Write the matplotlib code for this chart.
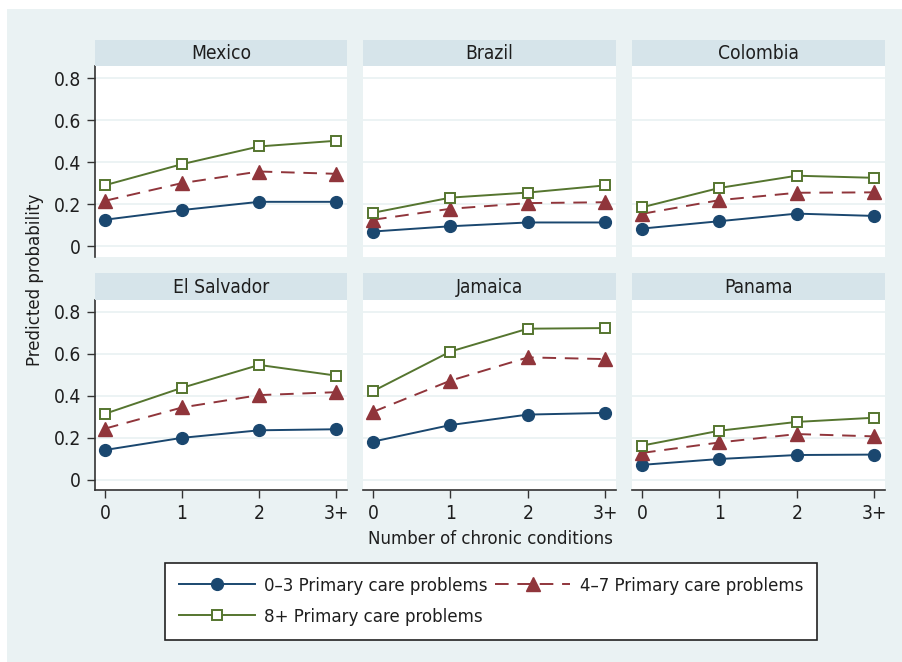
import matplotlib
matplotlib.use("Agg")
import matplotlib.pyplot as plt
from matplotlib import font_manager
from matplotlib.patches import Rectangle
import numpy as np

# pick a narrow face if one is installed, otherwise plain Liberation Sans
narrow = [f for f in font_manager.fontManager.ttflist
          if ("Narrow" in f.name or "Condensed" in f.name
              or f.stretch in ("condensed", "semi-condensed"))]
if narrow:
    fam = narrow[0].name
    plt.rcParams['font.stretch'] = narrow[0].stretch
    fs = 13.3
else:
    fam = "Liberation Sans"
    fs = 13
plt.rcParams['font.family'] = [fam, 'DejaVu Sans']

# data
countries = ["Mexico", "Brazil", "Colombia", "El Salvador", "Jamaica", "Panama"]
x_labels = ["0", "1", "2", "3+"]
series_names = ["0\u20133 Primary care problems", "4\u20137 Primary care problems",
                "8+ Primary care problems"]

low = [[0.127, 0.173, 0.212, 0.212],
       [0.071, 0.096, 0.114, 0.114],
       [0.085, 0.120, 0.156, 0.145],
       [0.141, 0.199, 0.235, 0.240],
       [0.181, 0.260, 0.310, 0.318],
       [0.070, 0.098, 0.117, 0.119]]
mid = [[0.217, 0.301, 0.356, 0.345],
       [0.127, 0.179, 0.206, 0.210],
       [0.155, 0.220, 0.255, 0.257],
       [0.243, 0.344, 0.403, 0.417],
       [0.323, 0.472, 0.583, 0.575],
       [0.127, 0.177, 0.217, 0.206]]
high = [[0.291, 0.391, 0.475, 0.502],
        [0.160, 0.232, 0.256, 0.290],
        [0.186, 0.278, 0.336, 0.326],
        [0.314, 0.438, 0.547, 0.496],
        [0.422, 0.611, 0.720, 0.723],
        [0.162, 0.233, 0.275, 0.295]]

blue = "#1a476f"
red = "#90353b"
green = "#55752f"
bg = "#eaf2f3"
strip = "#d6e4ea"
txt = "#1e1e1e"

W, H = 902, 662
fig = plt.figure(figsize=(W / 100, H / 100), dpi=100)
fig.patch.set_facecolor("white")
fig.patches.append(Rectangle((7 / W, 0), 1, 1 - 9 / H, transform=fig.transFigure,
                             facecolor=bg, edgecolor="none", zorder=-10))

cols = [(95, 347), (363, 616), (632, 885)]
rows = [(40, 66, 257), (273, 300, 490)]  # strip top, plot top, plot bottom

xs = np.arange(4)
handles = None
for i, name in enumerate(countries):
    r, c = divmod(i, 3)
    x0, x1 = cols[c]
    st, pt, pb = rows[r]
    ax = fig.add_axes([x0 / W, 1 - pb / H, (x1 - x0) / W, (pb - pt) / H])
    sax = fig.add_axes([x0 / W, 1 - pt / H, (x1 - x0) / W, (pt - st) / H])
    sax.set_facecolor(strip)
    sax.set_xticks([]); sax.set_yticks([])
    for s in sax.spines.values():
        s.set_visible(False)
    sax.text(0.5, 0.47, name, ha="center", va="center", fontsize=fs + 0.5, color=txt,
             transform=sax.transAxes)

    ax.set_facecolor("white")
    ax.set_xlim(-0.13, 3.14)
    ax.set_ylim(-0.05, 0.857)
    ax.set_yticks([0, 0.2, 0.4, 0.6, 0.8])
    ax.set_xticks(xs)
    ax.grid(axis="y", color=bg, linewidth=1.3)
    ax.set_axisbelow(True)
    for s in ax.spines.values():
        s.set_visible(False)
    ax.tick_params(colors="#333333", labelcolor=txt, labelsize=fs + 0.5, length=6,
                   width=1, pad=4)
    if c == 0:
        ax.spines["left"].set_visible(True)
        ax.spines["left"].set_color("#333333")
        ax.spines["left"].set_linewidth(1.2)
        ax.set_yticklabels(["0", "0.2", "0.4", "0.6", "0.8"])
    else:
        ax.tick_params(axis="y", left=False, labelleft=False)
    if r == 1:
        ax.spines["bottom"].set_visible(True)
        ax.spines["bottom"].set_color("#333333")
        ax.spines["bottom"].set_linewidth(1.2)
        ax.set_xticklabels(x_labels)
    else:
        ax.tick_params(axis="x", bottom=False, labelbottom=False)

    l1, = ax.plot(xs, low[i], color=blue, lw=1.4, marker="o", ms=8.5, mec=blue, mfc=blue)
    l2, = ax.plot(xs, mid[i], color=red, lw=1.4, ls=(0, (7, 4.5)), marker="^", ms=9.5,
                  mec=red, mfc=red)
    l3, = ax.plot(xs, high[i], color=green, lw=1.4, marker="s", ms=7.5, mec=green,
                  mfc="white", mew=1.4)
    handles = [l1, l2, l3]

fig.text(35 / W, 1 - 280 / H, "Predicted probability", rotation=90, ha="center",
         va="center", fontsize=fs, color=txt)
fig.text(490 / W, 1 - 539 / H, "Number of chronic conditions", ha="center",
         va="center", fontsize=fs, color=txt)

# stata fills the legend row by row, matplotlib column by column
order = [0, 2, 1]
leg = fig.legend([handles[k] for k in order], [series_names[k] for k in order],
                 ncol=2, loc="upper left", borderaxespad=0,
                 bbox_to_anchor=(165 / W, 1 - 563 / H), fontsize=fs, frameon=True,
                 fancybox=False, handlelength=4.1, handletextpad=0.5, columnspacing=0.4,
                 borderpad=0.75, labelspacing=0.7, framealpha=1)
leg.get_frame().set_facecolor("white")
leg.get_frame().set_edgecolor("#222222")
leg.get_frame().set_linewidth(1.2)
for t in leg.get_texts():
    t.set_color(txt)

fig.savefig("out.png", dpi=100, facecolor=fig.get_facecolor())
